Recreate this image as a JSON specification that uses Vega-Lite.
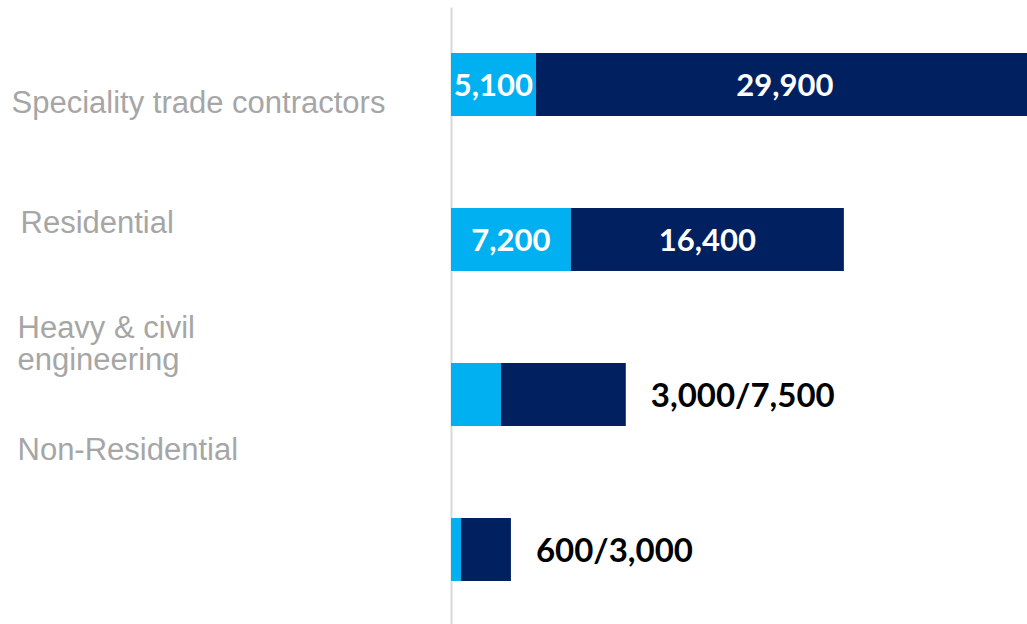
{
  "$schema": "https://vega.github.io/schema/vega-lite/v6.json",
  "width": 576,
  "height": 620,
  "autosize": "none",
  "padding": {"left": 451, "top": 7, "right": 0, "bottom": 0},
  "background": "white",
  "config": {"view": {"stroke": null}},
  "data": {
    "values": [
      {"category": "Speciality trade contractors", "part1": 5100, "part2": 29900},
      {"category": "Residential", "part1": 7200, "part2": 16400},
      {"category": "Heavy & civil engineering", "part1": 3000, "part2": 7500},
      {"category": "Non-Residential", "part1": 600, "part2": 3000}
    ]
  },
  "encoding": {
    "y": {
      "field": "category",
      "type": "nominal",
      "sort": null,
      "title": null,
      "scale": {"paddingInner": 0.594, "paddingOuter": 0.297},
      "axis": {
        "domainColor": "#d9d9d9",
        "domainWidth": 2,
        "ticks": false,
        "grid": false,
        "labelAlign": "left",
        "labelBaseline": "middle",
        "labelPadding": 434,
        "labelFont": "Liberation Sans",
        "labelFontSize": 31,
        "labelColor": "#a6a6a6",
        "labelLimit": 600,
        "labelLineHeight": 32,
        "labelOverlap": false,
        "labelExpr": "datum.label == 'Heavy & civil engineering' ? ['Heavy & civil', 'engineering'] : datum.label",
        "encoding": {
          "labels": {
            "dy": {
              "condition": [
                {"test": "datum.value == 'Speciality trade contractors'", "value": 19},
                {"test": "datum.value == 'Residential'", "value": -16},
                {"test": "datum.value == 'Heavy & civil engineering'", "value": -66},
                {"test": "datum.value == 'Non-Residential'", "value": -99}
              ],
              "value": 0
            },
            "dx": {
              "condition": [
                {"test": "datum.value == 'Speciality trade contractors'", "value": -6},
                {"test": "datum.value == 'Residential'", "value": 3}
              ],
              "value": 0
            }
          }
        }
      }
    }
  },
  "layer": [
    {
      "transform": [{"fold": ["part1", "part2"], "as": ["segment", "value"]}],
      "mark": {"type": "bar"},
      "encoding": {
        "x": {
          "field": "value",
          "type": "quantitative",
          "stack": "zero",
          "scale": {"domain": [0, 34600], "nice": false, "zero": true},
          "axis": null
        },
        "color": {
          "field": "segment",
          "type": "nominal",
          "scale": {"domain": ["part1", "part2"], "range": ["#00b0f0", "#002060"]},
          "legend": null
        },
        "order": {"field": "segment", "sort": "ascending"}
      }
    },
    {
      "transform": [
        {"filter": "datum.part1 + datum.part2 > 20000"},
        {"fold": ["part1", "part2"], "as": ["segment", "value"]},
        {"stack": "value", "groupby": ["category"], "sort": [{"field": "segment", "order": "ascending"}], "as": ["x0", "x1"]},
        {"calculate": "(datum.x0 + datum.x1) / 2", "as": "mid"}
      ],
      "mark": {"type": "text", "font": "Lato", "fontWeight": "bold", "fontSize": 31, "color": "white", "baseline": "middle", "align": "center", "dy": 2},
      "encoding": {
        "x": {"field": "mid", "type": "quantitative"},
        "text": {"field": "value", "type": "quantitative", "format": ","}
      }
    },
    {
      "transform": [
        {"filter": "datum.part1 + datum.part2 < 20000"},
        {"calculate": "datum.part1 + datum.part2", "as": "total"},
        {"calculate": "format(datum.part1, ',') + '/' + format(datum.part2, ',')", "as": "label"}
      ],
      "mark": {"type": "text", "font": "Lato", "fontWeight": "bold", "fontSize": 33, "color": "#000000", "baseline": "middle", "align": "left", "dx": 25, "dy": 2},
      "encoding": {
        "x": {"field": "total", "type": "quantitative"},
        "text": {"field": "label", "type": "nominal"}
      }
    }
  ]
}
